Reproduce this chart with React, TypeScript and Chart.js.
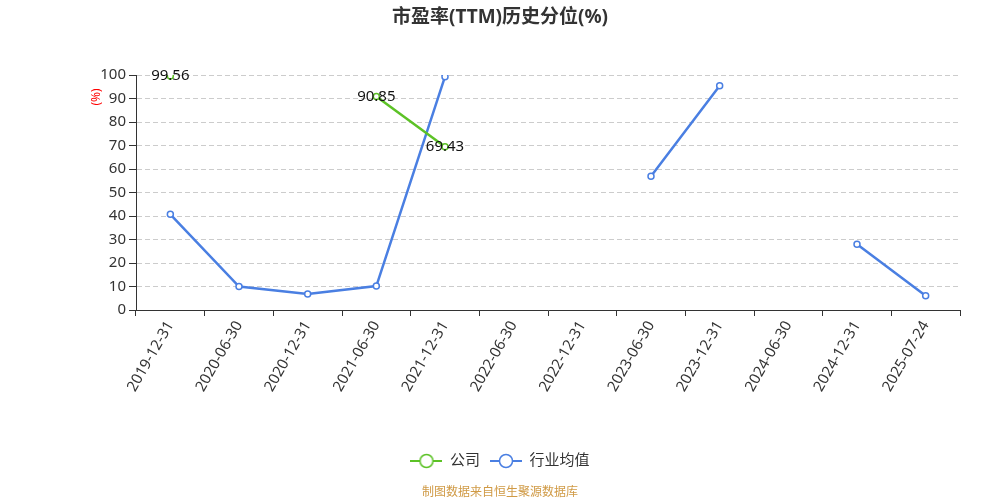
import { useEffect, useRef } from 'react';
import { Chart, registerables } from 'chart.js';

Chart.register(...registerables);

const categories = [
  '2019-12-31', '2020-06-30', '2020-12-31', '2021-06-30', '2021-12-31', '2022-06-30',
  '2022-12-31', '2023-06-30', '2023-12-31', '2024-06-30', '2024-12-31', '2025-07-24',
];
const companyValues = [99.56, null, null, 90.85, 69.43, null, null, null, null, null, null, null];
const industryValues = [40.7, 10.0, 6.8, 10.2, 99.3, null, null, 56.9, 95.4, null, 28.0, 6.1];
const seriesNames = ['公司', '行业均值'];
const seriesColors = ['#5cc226', '#4a7fe2'];

const FONT = '"Noto Sans", "Noto Sans CJK SC", sans-serif';

// little line-circle-line icon for the legend
function legendIcon(color: string) {
  const c = document.createElement('canvas');
  c.width = 32;
  c.height = 16;
  const g = c.getContext('2d')!;
  g.strokeStyle = color;
  g.lineWidth = 2;
  g.beginPath();
  g.moveTo(0, 8);
  g.lineTo(32, 8);
  g.stroke();
  g.beginPath();
  g.arc(16, 8, 6.5, 0, Math.PI * 2);
  g.fillStyle = '#fff';
  g.fill();
  g.lineWidth = 1.5;
  g.stroke();
  return c;
}

const extrasPlugin = {
  id: 'extras',
  afterDatasetsDraw(chart: any) {
    const ctx = chart.ctx;
    // value labels for company series
    const meta = chart.getDatasetMeta(0);
    ctx.save();
    ctx.font = `15px ${FONT}`;
    ctx.fillStyle = '#111';
    ctx.textAlign = 'center';
    ctx.textBaseline = 'middle';
    meta.data.forEach((pt: any, i: number) => {
      const v = companyValues[i];
      if (v == null) return;
      ctx.fillText(v.toFixed(2), pt.x, pt.y);
    });
    ctx.restore();
  },
  afterDraw(chart: any) {
    const ctx = chart.ctx;
    const area = chart.chartArea;
    ctx.save();
    // y unit label
    ctx.translate(area.left - 39, area.top + 22);
    ctx.rotate(-Math.PI / 2);
    ctx.font = `12px ${FONT}`;
    ctx.fillStyle = '#ff0000';
    ctx.textAlign = 'center';
    ctx.textBaseline = 'middle';
    ctx.fillText('(%)', 0, 0);
    ctx.restore();
    // source note
    ctx.save();
    ctx.font = `12px ${FONT}`;
    ctx.fillStyle = '#d09a45';
    ctx.textAlign = 'center';
    ctx.textBaseline = 'middle';
    ctx.fillText('制图数据来自恒生聚源数据库', chart.width / 2, 493);
    ctx.restore();
  },
};

export default function App() {
  const chartRef = useRef<HTMLCanvasElement | null>(null);

  useEffect(() => {
    if (!chartRef.current) return;
    const icons = seriesColors.map((c) => legendIcon(c));
    const chart = new Chart(chartRef.current, {
      type: 'line',
      data: {
        labels: categories,
        datasets: [companyValues, industryValues].map((vals, i) => ({
          label: seriesNames[i],
          data: vals,
          borderColor: seriesColors[i],
          backgroundColor: '#ffffff',
          borderWidth: 2.5,
          pointRadius: 3,
          pointBorderWidth: 1.5,
          pointBackgroundColor: '#ffffff',
          pointBorderColor: seriesColors[i],
          spanGaps: false,
          tension: 0,
        })),
      },
      options: {
        responsive: false,
        animation: false,
        layout: { padding: { left: 20, right: 20, top: 0, bottom: 21.5 } },
        plugins: {
          title: {
            display: true,
            text: '市盈率(TTM)历史分位(%)',
            color: '#333',
            font: { family: FONT, size: 19, weight: 'bold' },
            padding: { top: 6, bottom: 46.2 },
          },
          legend: {
            position: 'bottom',
            labels: {
              usePointStyle: true,
              pointStyleWidth: 32,
              color: '#333',
              font: { family: FONT, size: 15 },
              padding: 10,
              generateLabels: (c: any) => {
                const items = Chart.defaults.plugins.legend.labels.generateLabels(c);
                return items.map((it: any, i: number) => ({ ...it, pointStyle: icons[i] }));
              },
            },
          },
          tooltip: { enabled: false },
        },
        scales: {
          x: {
            offset: true,
            afterFit: (s: any) => { s.height = 133.5; },
            grid: {
              offset: true,
              drawOnChartArea: false,
              drawTicks: true,
              tickLength: 6,
              tickColor: '#333',
            },
            border: { color: '#333', width: 1 },
            ticks: {
              color: '#333',
              font: { family: FONT, size: 15 },
              minRotation: 60,
              maxRotation: 60,
              autoSkip: false,
              padding: 2,
            },
          },
          y: {
            min: 0,
            max: 100,
            afterFit: (s: any) => { s.width = 116; },
            grid: {
              color: '#cccccc',
              tickColor: '#333',
              tickLength: 7,
              tickBorderDash: [],
            },
            border: { color: '#333', width: 1, dash: [5, 3] },
            ticks: {
              stepSize: 10,
              color: '#333',
              font: { family: FONT, size: 15 },
              padding: 3,
            },
          },
          // empty right-hand strip so the plot ends at the same place as the reference
          yRight: {
            position: 'right',
            min: 0,
            max: 100,
            afterFit: (s: any) => { s.width = 20; },
            grid: { display: false },
            border: { display: false },
            ticks: { display: false },
          },
        },
      },
      plugins: [extrasPlugin],
    });
    return () => chart.destroy();
  }, []);

  return (
    <div style={{ position: 'fixed', left: 0, top: 0, width: 1000, height: 500, background: '#fff' }}>
      <canvas ref={chartRef} width={1000} height={500} style={{ width: 1000, height: 500 }} />
    </div>
  );
}
